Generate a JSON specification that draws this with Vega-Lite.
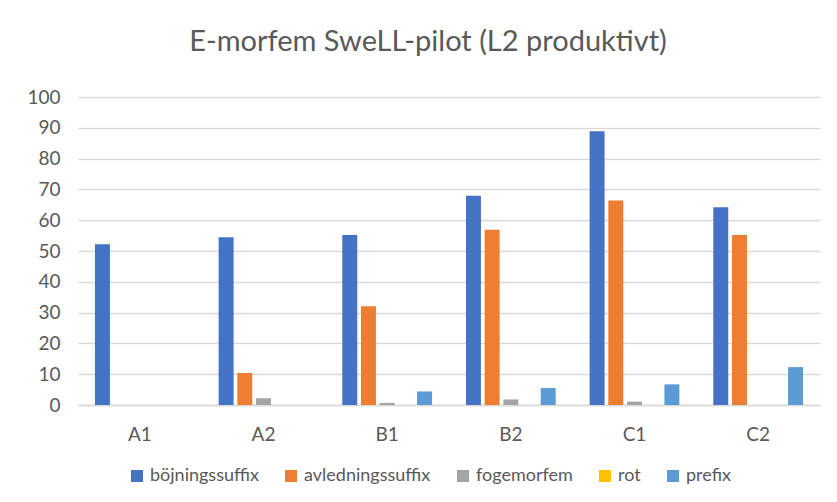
{
  "$schema": "https://vega.github.io/schema/vega-lite/v6.json",
  "width": 742,
  "height": 308,
  "autosize": {"type": "none"},
  "padding": {"left": 78, "top": 97, "right": 17, "bottom": 97},
  "background": "white",
  "title": {
    "text": "E-morfem SweLL-pilot (L2 produktivt)",
    "fontSize": 29,
    "font": "Lato",
    "fontWeight": "normal",
    "color": "#595959",
    "anchor": "middle",
    "offset": 31,
    "dx": -21
  },
  "data": {
    "values": [
      {"niva": "A1", "typ": "böjningssuffix", "varde": 52.2},
      {"niva": "A1", "typ": "avledningssuffix", "varde": 0},
      {"niva": "A1", "typ": "fogemorfem", "varde": 0},
      {"niva": "A1", "typ": "rot", "varde": 0},
      {"niva": "A1", "typ": "prefix", "varde": 0},
      {"niva": "A2", "typ": "böjningssuffix", "varde": 54.5},
      {"niva": "A2", "typ": "avledningssuffix", "varde": 10.4},
      {"niva": "A2", "typ": "fogemorfem", "varde": 2.2},
      {"niva": "A2", "typ": "rot", "varde": 0},
      {"niva": "A2", "typ": "prefix", "varde": 0},
      {"niva": "B1", "typ": "böjningssuffix", "varde": 55.2},
      {"niva": "B1", "typ": "avledningssuffix", "varde": 32.1},
      {"niva": "B1", "typ": "fogemorfem", "varde": 0.7},
      {"niva": "B1", "typ": "rot", "varde": 0},
      {"niva": "B1", "typ": "prefix", "varde": 4.4},
      {"niva": "B2", "typ": "böjningssuffix", "varde": 67.9},
      {"niva": "B2", "typ": "avledningssuffix", "varde": 56.9},
      {"niva": "B2", "typ": "fogemorfem", "varde": 1.8},
      {"niva": "B2", "typ": "rot", "varde": 0},
      {"niva": "B2", "typ": "prefix", "varde": 5.5},
      {"niva": "C1", "typ": "böjningssuffix", "varde": 88.9},
      {"niva": "C1", "typ": "avledningssuffix", "varde": 66.4},
      {"niva": "C1", "typ": "fogemorfem", "varde": 1.1},
      {"niva": "C1", "typ": "rot", "varde": 0},
      {"niva": "C1", "typ": "prefix", "varde": 6.7},
      {"niva": "C2", "typ": "böjningssuffix", "varde": 64.2},
      {"niva": "C2", "typ": "avledningssuffix", "varde": 55.2},
      {"niva": "C2", "typ": "fogemorfem", "varde": 0},
      {"niva": "C2", "typ": "rot", "varde": 0},
      {"niva": "C2", "typ": "prefix", "varde": 12.3}
    ]
  },
  "mark": {"type": "bar"},
  "encoding": {
    "x": {
      "field": "niva",
      "type": "nominal",
      "scale": {"paddingInner": 0.244, "paddingOuter": 0.122},
      "axis": {
        "title": null,
        "labelAngle": 0,
        "labelFontSize": 19,
        "labelFont": "Lato",
        "labelColor": "#595959",
        "labelPadding": 20,
        "ticks": false,
        "domainColor": "#d9d9d9",
        "domainWidth": 1.5
      }
    },
    "xOffset": {
      "field": "typ",
      "type": "nominal",
      "sort": ["böjningssuffix", "avledningssuffix", "fogemorfem", "rot", "prefix"],
      "scale": {"paddingInner": 0.2, "paddingOuter": 0.1}
    },
    "y": {
      "field": "varde",
      "type": "quantitative",
      "scale": {"domain": [0, 100]},
      "axis": {
        "title": null,
        "values": [0, 10, 20, 30, 40, 50, 60, 70, 80, 90, 100],
        "labelFontSize": 19,
        "labelFont": "Lato",
        "labelColor": "#595959",
        "labelPadding": 18,
        "ticks": false,
        "domain": false,
        "gridColor": "#d9d9d9",
        "gridWidth": 1.5
      }
    },
    "color": {
      "field": "typ",
      "type": "nominal",
      "scale": {
        "domain": ["böjningssuffix", "avledningssuffix", "fogemorfem", "rot", "prefix"],
        "range": ["#4472C4", "#ED7D31", "#A5A5A5", "#FFC000", "#5B9BD5"]
      },
      "legend": {
        "title": null,
        "orient": "none",
        "direction": "horizontal",
        "legendX": 50,
        "legendY": 370,
        "symbolType": "square",
        "symbolSize": 144,
        "symbolStrokeWidth": 0,
        "labelFontSize": 18,
        "labelFont": "Lato",
        "labelColor": "#595959",
        "labelOffset": 4,
        "columnPadding": 23
      }
    }
  },
  "config": {"view": {"stroke": null}}
}
